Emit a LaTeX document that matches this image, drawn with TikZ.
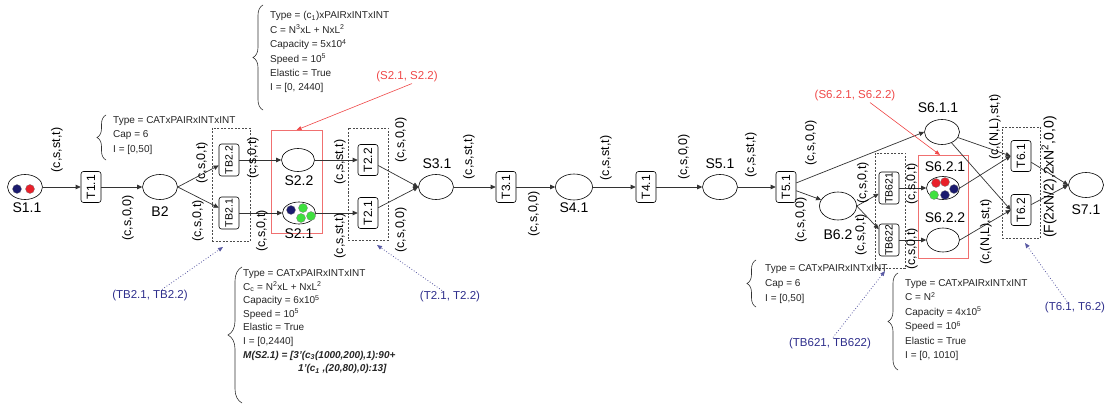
\documentclass[tikz,border=0pt]{standalone}
\usepackage{fontspec}
\setmainfont{Liberation Sans}
\usepackage{graphicx}
\usetikzlibrary{arrows.meta,shapes.geometric,decorations.pathreplacing}
\definecolor{arccol}{HTML}{333333}
\definecolor{tokred}{HTML}{E8202A}
\definecolor{toknavy}{HTML}{1B1B6E}
\definecolor{tokgreen}{HTML}{3EE03E}
\definecolor{annred}{HTML}{F04848}
\definecolor{annblue}{HTML}{2E2E8C}
\definecolor{boxred}{HTML}{F07070}
\begin{document}
\begin{tikzpicture}[x=1pt,y=-1pt,
 plc/.style={ellipse,draw=black,line width=0.6pt,fill=white,minimum width=35pt,minimum height=25pt,inner sep=0pt},
 trn/.style={draw=black,line width=0.6pt,rounded corners=2.5pt,fill=white,minimum width=20pt,minimum height=31pt,inner sep=0pt,font=\fontsize{12}{12}\selectfont},
 tbt/.style={trn,minimum width=20pt,minimum height=32pt,font=\fontsize{10.5}{10.5}\selectfont},
 plab/.style={font=\fontsize{14}{14}\selectfont,inner sep=0pt},
 elab/.style={font=\fontsize{12.5}{12.5}\selectfont,rotate=90,inner sep=0.5pt},
 pnarc/.style={draw=arccol,line width=0.7pt,-{Triangle[length=5pt,width=4.5pt]}},
 grp/.style={draw=black!70,line width=0.6pt,dash pattern=on 2pt off 1.5pt,inner sep=0pt,outer sep=0pt},
 redgrp/.style={draw=boxred,line width=0.7pt,inner sep=0pt,outer sep=0pt},
 tok/.style={circle,inner sep=0pt,minimum size=9pt,draw=black!50,line width=0.3pt},
 info/.style={anchor=north west,align=left,inner sep=0pt,text=black!85,font=\fontsize{10}{14.4}\selectfont},
 brc/.style={draw=black!80,line width=0.6pt,decorate,decoration={brace,amplitude=#1}},
 annr/.style={text=annred,font=\fontsize{11.5}{11.5}\selectfont,inner sep=1pt},
 annb/.style={text=annblue,font=\fontsize{11.5}{11.5}\selectfont,inner sep=1pt},
 rline/.style={draw=annred,line width=0.6pt,-{Triangle[length=5pt,width=4pt]}},
 bline/.style={draw=annblue!80,line width=0.8pt,dotted,-{Triangle[length=5pt,width=4pt]}}
]
\fill[white] (0,0) rectangle (1109,409);
\useasboundingbox (0,0) rectangle (1109,409);

% groups
\node[grp,minimum width=38pt,minimum height=113pt] (gTB2) at (231,184.5) {};
\node[grp,minimum width=40pt,minimum height=112pt] (gT2) at (368,184) {};
\node[grp,minimum width=30pt,minimum height=115pt] (gTB62) at (890,210.5) {};
\node[grp,minimum width=38pt,minimum height=111pt] (gT6) at (1021,182.5) {};
\node[redgrp,minimum width=51pt,minimum height=103pt] (rS2) at (296.5,181.5) {};
\node[redgrp,minimum width=50pt,minimum height=103pt] (rS6) at (943,206.5) {};

% places and transitions
\node[plc] (S11) at (25,187) {};
\node[trn] (T11) at (91,187) {\rotatebox{90}{T1.1}};
\node[plc] (B2) at (160,187) {};
\node[tbt] (TB22) at (229,160) {\rotatebox{90}{TB2.2}};
\node[tbt] (TB21) at (229,213) {\rotatebox{90}{TB2.1}};
\node[plc,minimum width=33pt,minimum height=23pt] (S22) at (298,160) {};
\node[plc,minimum width=33pt,minimum height=22pt] (S21) at (299,213) {};
\node[trn] (T22) at (368,160) {\rotatebox{90}{T2.2}};
\node[trn] (T21) at (368,213) {\rotatebox{90}{T2.1}};
\node[plc] (S31) at (436,187) {};
\node[trn] (T31) at (506,187) {\rotatebox{90}{T3.1}};
\node[plc,minimum width=37pt,minimum height=26pt] (S41) at (574,187) {};
\node[trn] (T41) at (646,187) {\rotatebox{90}{T4.1}};
\node[plc] (S51) at (720,187) {};
\node[trn] (T51) at (786,187) {\rotatebox{90}{T5.1}};
\node[plc,minimum width=37pt,minimum height=28pt] (B62) at (838,206) {};
\node[tbt] (TB621) at (889,188) {\rotatebox{90}{TB621}};
\node[tbt] (TB622) at (889,240) {\rotatebox{90}{TB622}};
\node[plc] (S611) at (942,132) {};
\node[plc,minimum width=33pt,minimum height=23pt] (S621) at (943,188) {};
\node[plc,minimum width=33pt,minimum height=24pt] (S622) at (943,240) {};
\node[trn] (T61) at (1021,156) {\rotatebox{90}{T6.1}};
\node[trn] (T62) at (1021,210) {\rotatebox{90}{T6.2}};
\node[plc] (S71) at (1086,185) {};

% tokens
\node[tok,fill=toknavy] (k1) at ([shift={(-8,2)}]S11.center) {};
\node[tok,fill=tokred] (k2) at ([shift={(5,2)}]S11.center) {};
\node[tok,fill=toknavy] (k3) at ([shift={(-8,-3)}]S21.center) {};
\node[tok,fill=tokgreen] (k4) at ([shift={(4,-5)}]S21.center) {};
\node[tok,fill=tokgreen] (k5) at ([shift={(12,3)}]S21.center) {};
\node[tok,fill=tokgreen] (k6) at ([shift={(2,5)}]S21.center) {};
\node[tok,fill=tokred] (k7) at ([shift={(-7,-5)}]S621.center) {};
\node[tok,fill=tokred] (k8) at ([shift={(2,-6)}]S621.center) {};
\node[tok,fill=toknavy] (k9) at ([shift={(11,1)}]S621.center) {};
\node[tok,fill=tokgreen] (k10) at ([shift={(-9,7)}]S621.center) {};
\node[tok,fill=toknavy] (k11) at ([shift={(2,7)}]S621.center) {};

% place labels
\node[plab] (lS11) at (27,208) {S1.1};
\node[plab] (lB2) at (160,212) {B2};
\node[plab] (lS22) at (299,181) {S2.2};
\node[plab] (lS21) at (299,234) {S2.1};
\node[plab] (lS31) at (437,164) {S3.1};
\node[plab] (lS41) at (574,208) {S4.1};
\node[plab] (lS51) at (720,164) {S5.1};
\node[plab] (lB62) at (838,235) {B6.2};
\node[plab] (lS611) at (938,108) {S6.1.1};
\node[plab] (lS621) at (945,167) {S6.2.1};
\node[plab] (lS622) at (945,218) {S6.2.2};
\node[plab] (lS71) at (1086,210) {S7.1};

% arcs
\draw[pnarc] (S11) -- (T11);
\draw[pnarc] (T11) -- (B2);
\draw[pnarc] (B2.east) -- (TB22);
\draw[pnarc] (B2.east) -- (TB21);
\draw[pnarc] (TB22) -- (S22);
\draw[pnarc] (TB21) -- (S21);
\draw[pnarc] (S22) -- (T22);
\draw[pnarc] (S21) -- (T21);
\draw[pnarc] (T22) -- (S31.west);
\draw[pnarc] (T21) -- (S31.west);
\draw[pnarc] (S31) -- (T31);
\draw[pnarc] (T31) -- (S41);
\draw[pnarc] (S41) -- (T41);
\draw[pnarc] (T41) -- (S51);
\draw[pnarc] (S51) -- (T51);
\draw[pnarc] (T51) -- (S611.west);
\draw[pnarc] (T51) -- (B62);
\draw[pnarc] (B62.east) -- (TB621);
\draw[pnarc] (B62.east) -- (TB622);
\draw[pnarc] (TB621) -- (S621);
\draw[pnarc] (TB622) -- (S622);
\draw[pnarc] (S611) -- (T61.west);
\draw[pnarc] (S611) -- (T62.west);
\draw[pnarc] (S621.east) -- (T61.west);
\draw[pnarc] (S622.east) -- (T62.west);
\draw[pnarc] (T61) -- (S71.west);
\draw[pnarc] (T62) -- (S71.west);

% arc labels
\node[elab] (l1) at (57,150) {(c,s,st,t)};
\node[elab] (l2) at (128,218) {(c,s,0,0)};
\node[elab] (l3) at (202,163) {(c,s,0,t)};
\node[elab] (l4) at (198,221) {(c,s,0,t)};
\node[elab] (l5) at (253,158) {(c,s,0,t)};
\node[elab] (l6) at (262,231) {(c,s,0,t)};
\node[elab] (l7) at (340,162) {(c,s,st,t)};
\node[elab] (l8) at (340,236) {(c,s,st,t)};
\node[elab] (l9) at (401,140) {(c,s,0,0)};
\node[elab] (l10) at (401,230) {(c,s,0,0)};
\node[elab] (l11) at (469,157) {(c,s,st,t)};
\node[elab] (l12) at (534,214) {(c,s,0,0)};
\node[elab] (l13) at (606,158) {(c,s,st,t)};
\node[elab] (l14) at (684,157) {(c,s,0,0)};
\node[elab] (l15) at (751,155) {(c,s,st,t)};
\node[elab] (l16) at (811,143) {(c,s,0,0)};
\node[elab] (l17) at (801,220) {(c,s,0,0)};
\node[elab] (l18) at (863,183) {(c,s,0,t)};
\node[elab] (l19) at (861,235) {(c,s,0,t)};
\node[elab] (l20) at (912,184) {(c,s,0,t)};
\node[elab] (l21) at (912,249) {(c,s,0,t)};
\node[elab] (l22) at (995,127) {(c,(N,L),st,t)};
\node[elab] (l23) at (986,232) {(c,(N,L),st,t)};
\node[elab,font=\fontsize{14}{14}\selectfont] (l24) at (1049,177) {(F(2xN/2),2xN\textsuperscript{2},0,0)};

% info blocks
\node[info] (inf1) at (113,116.4) {Type = CATxPAIRxINTxINT\\Cap = 6\\I = [0,50]};
\draw[brc=9pt] (106,160) -- (106,115);
\node[info] (inf2) at (270,11.4) {Type = (c\textsubscript{1})xPAIRxINTxINT\\C = N\textsuperscript{3}xL + NxL\textsuperscript{2}\\Capacity = 5x10\textsuperscript{4}\\Speed = 10\textsuperscript{5}\\Elastic = True\\I = [0, 2440]};
\draw[brc=10pt] (263,110) -- (263,5);
\node[info,font=\fontsize{10}{13.6}\selectfont] (inf3) at (243,269.4) {Type = CATxPAIRxINTxINT\\C\textsubscript{c} = N\textsuperscript{2}xL + NxL\textsuperscript{2}\\Capacity = 6x10\textsuperscript{5}\\Speed = 10\textsuperscript{5}\\Elastic = True\\I = [0,2440]\\\textbf{\textit{M(S2.1) = [3'(c\textsubscript{3}(1000,200),1):90+}}\\\hspace*{55pt}\textbf{\textit{1'(c\textsubscript{1} ,(20,80),0):13]}}};
\draw[brc=14pt] (242,403) -- (242,267);
\node[info,font=\fontsize{10}{15}\selectfont] (inf4) at (765,264.4) {Type = CATxPAIRxINTxINT\\Cap = 6\\I = [0,50]};
\draw[brc=9pt] (756,307) -- (756,260);
\node[info] (inf5) at (905,279.4) {Type = CATxPAIRxINTxINT\\C = N\textsuperscript{2}\\Capacity = 4x10\textsuperscript{5}\\Speed = 10\textsuperscript{6}\\Elastic = True\\I = [0, 1010]};
\draw[brc=10pt] (898,370) -- (898,273);

% annotations
\node[annr] (aS2) at (407,77) {(S2.1, S2.2)};
\draw[rline] ([xshift=5pt]aS2.south) -- (rS2.north);
\node[annr] (aS6) at (855,96) {(S6.2.1, S6.2.2)};
\draw[rline] ([xshift=15pt]aS6.south) -- ([xshift=-3pt]rS6.north);
\node[annb] (aTB2) at (150,296) {(TB2.1, TB2.2)};
\draw[bline] ([xshift=12pt]aTB2.north) -- ([xshift=-8pt,yshift=-6pt]gTB2.south);
\node[annb] (aT2) at (450,297) {(T2.1, T2.2)};
\draw[bline] ([xshift=-8pt]aT2.north) -- ([xshift=9pt,yshift=-5pt]gT2.south);
\node[annb] (aTB62) at (830,344) {(TB621, TB622)};
\draw[bline] ([xshift=3pt]aTB62.north) -- ([xshift=-5pt,yshift=-3pt]gTB62.south);
\node[annb] (aT6) at (1075,308) {(T6.1, T6.2)};
\draw[bline] ([xshift=-8pt]aT6.north) -- ([xshift=4pt,yshift=-5pt]gT6.south);
\end{tikzpicture}
\end{document}
